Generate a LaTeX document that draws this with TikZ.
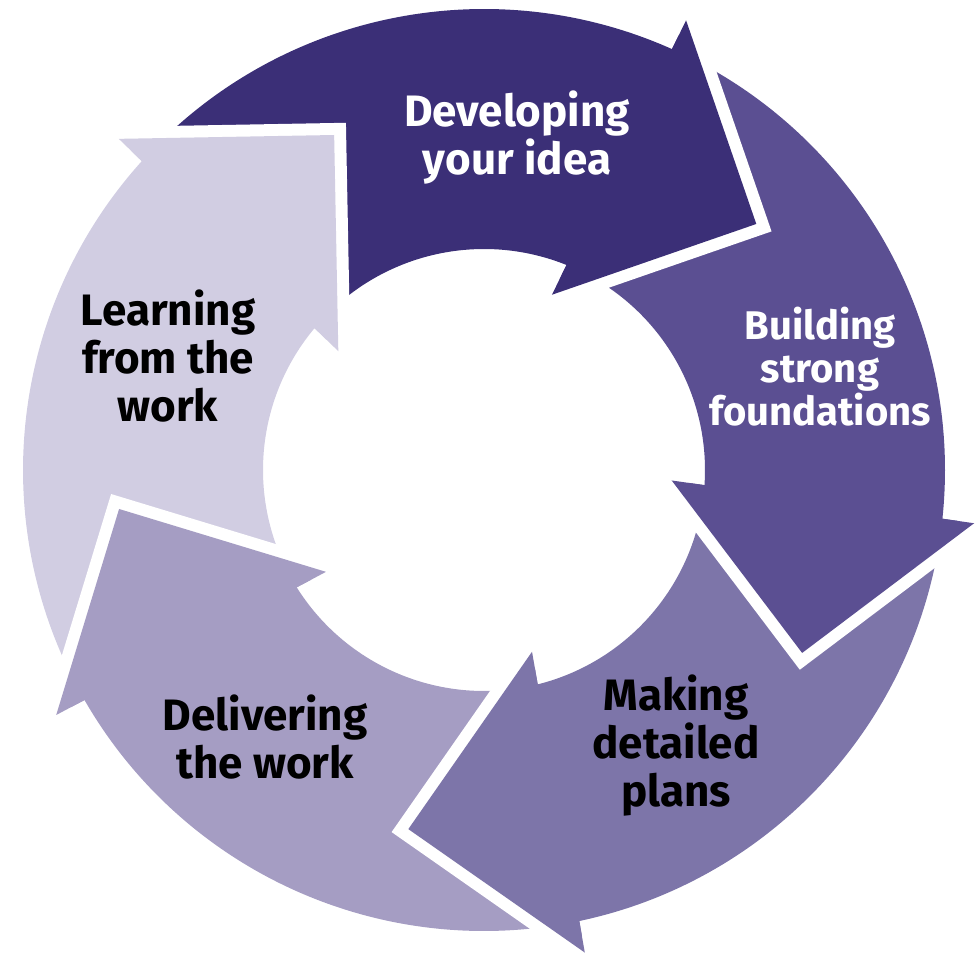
\documentclass[tikz,border=0pt]{standalone}
\usepackage{fontspec}
\setmainfont{Fira Sans}
\definecolor{cA}{HTML}{3B2F77}
\definecolor{cB}{HTML}{5B4F92}
\definecolor{cC}{HTML}{7D75A9}
\definecolor{cD}{HTML}{A59DC3}
\definecolor{cE}{HTML}{D1CDE2}
\begin{document}
\begin{tikzpicture}[x=1pt,y=1pt,
  lbl/.style={font=\bfseries\fontsize{44}{48}\selectfont, align=center, inner sep=0pt},
  lblsmall/.style={font=\bfseries\fontsize{40}{43}\selectfont, align=center, inner sep=0pt}]
\useasboundingbox (-484,-483) rectangle (493,470);
% bodies
\foreach \k/\col in {0/cA,1/cB,2/cC,3/cD,4/cE}{
  \pgfmathsetmacro\T{42.1-72*\k}
  \pgfmathsetmacro\Sa{\T+92.5}
  \pgfmathsetmacro\Ea{\T+23.84}
  \pgfmathsetmacro\Eb{\T+25.97}
  \fill[\col] (\Sa:461) arc[start angle=\Sa, end angle=\Ea, radius=461]
     -- ({\T+23.7}:493) -- (\T:367) -- ({\T+26.7}:188) -- (\Eb:221)
     arc[start angle=\Eb, end angle=\Sa, radius=221] -- cycle;
}
% heads with white gaps
\foreach \k/\col in {0/cA,1/cB,2/cC,3/cD,4/cE}{
  \pgfmathsetmacro\T{42.1-72*\k}
  \draw[white, line width=24pt, line join=miter] ({\T+23.7}:493) -- (\T:367) -- ({\T+26.7}:188);
  \fill[\col] ({\T+23.7}:493) -- (\T:367) -- ({\T+26.7}:188) -- cycle;
}
\node[lbl, text=white] (dev) at (33,332) {Developing\\your idea};
\node[lblsmall, text=white] (bui) at (336,103.5) {Building\\strong\\foundations};
\node[lbl] (mak) at (192,-276) {Making\\detailed\\plans};
\node[lbl] (del) at (-219,-267) {Delivering\\the work};
\node[lbl] (lea) at (-316,113.5) {Learning\\from the\\work};
\end{tikzpicture}
\end{document}
